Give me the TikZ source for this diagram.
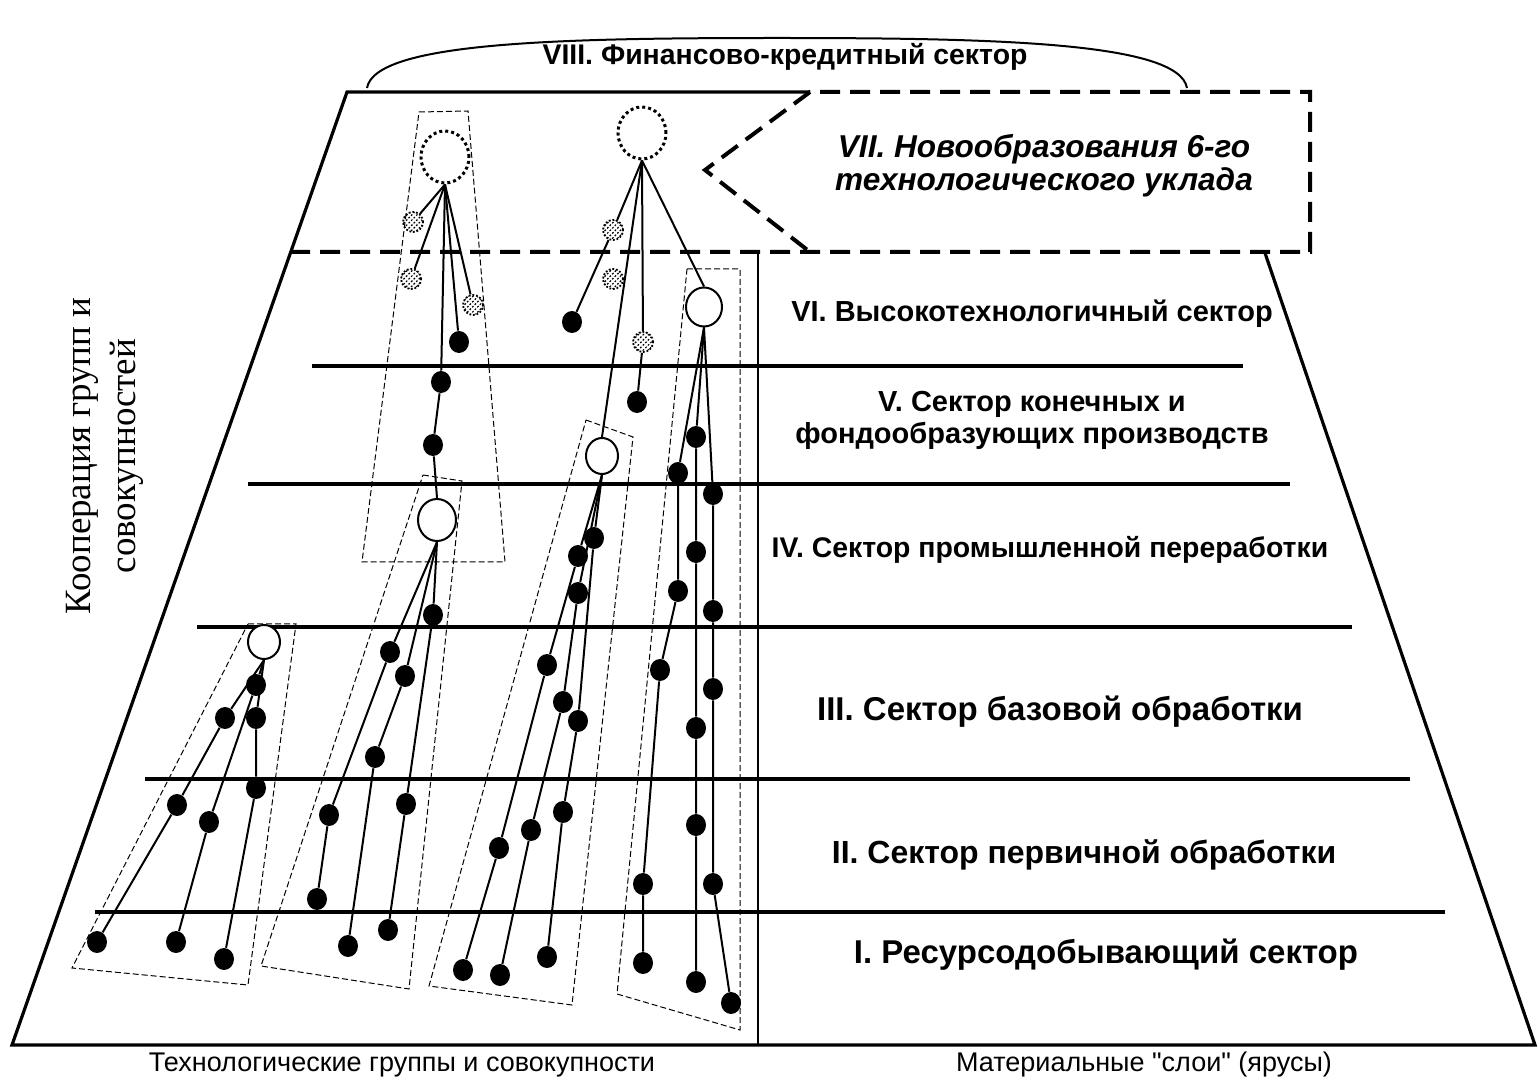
\documentclass[tikz,border=0pt]{standalone}
\usepackage{fontspec}
\setmainfont{Liberation Sans}
\newfontfamily\timesru{Liberation Serif}
\newfontfamily\plainsans{Liberation Sans}[Ligatures=TeXOff]
\usetikzlibrary{shapes.geometric,patterns.meta}

\begin{document}
\begin{tikzpicture}[x=0.5pt,y=-0.5pt,
	dot/.style={ellipse,fill=black,inner sep=0pt,minimum width=10pt,minimum height=11pt},
	hub/.style={ellipse,draw,line width=1pt,fill=white,inner sep=0pt},
	newhub/.style={ellipse,draw,line width=1.5pt,dash pattern=on 1.5pt off 1.5pt,inner sep=0pt,minimum width=24pt,minimum height=26pt},
	seed/.style={circle,draw,line width=0.9pt,dash pattern=on 0.9pt off 0.9pt,pattern={Lines[angle=45,distance=1.8pt,line width=0.6pt]},inner sep=0pt,minimum size=10pt},
	link/.style={line width=1pt},
	tier/.style={line width=1.6pt},
	group/.style={line width=0.5pt,dash pattern=on 3pt off 1.5pt},
	sector/.style={font=\bfseries\fontsize{14.5}{16}\selectfont,align=center},
	bigsector/.style={font=\bfseries\fontsize{16.5}{18}\selectfont}]
	\useasboundingbox (0,0) rectangle (1538,1085);
	\draw[line width=1pt] (367,88) .. controls (375,42) and (560,38) .. (777,38) .. controls (994,38) and (1179,42) .. (1187,88);
	\draw[tier] (810,92) -- (347,92) -- (12,1045) -- (1535,1045) -- (1265,253);
	\draw[line width=2pt,dash pattern=on 10pt off 5pt] (290,252) -- (1310,252) -- (1310,92) -- (810,92) -- (705,170) -- (810,252);
	\foreach \y/\a/\b in {366/312/1243, 484/248/1290, 627/197/1352, 779/145/1410, 912/95/1445}
		\draw[tier] (\a,\y) -- (\b,\y);
	\draw[line width=1pt] (758,252) -- (758,1045);
	\draw[group] (419,112) -- (468,111) -- (505,562) -- (362,562) -- cycle;
	\draw[group] (423,475) -- (462,481) -- (409,989) -- (261,966) -- cycle;
	\draw[group] (248,624) -- (296,624) -- (248,985) -- (72,968) -- cycle;
	\draw[group] (586,420) -- (633,437) -- (572,1005) -- (429,986) -- cycle;
	\draw[group] (687,269) -- (740,269) -- (740,1030) -- (617,994) -- cycle;

	\node[font=\bfseries\fontsize{14.2}{16}\selectfont] (fin) at (785,57) {VIII. Финансово-кредитный сектор};
	\node[font=\bfseries\itshape\fontsize{15.8}{16.5}\selectfont,align=center] (newtech) at (1044,166) {VII. Новообразования 6-го\\технологического уклада};
	\node[sector] (hitech) at (1032,314) {VI. Высокотехнологичный сектор};
	\node[sector] (final) at (1032,420) {V. Сектор конечных и\\фондообразующих производств};
	\node[font=\bfseries\fontsize{14.2}{16}\selectfont] (industry) at (1050,550) {IV. Сектор промышленной переработки};
	\node[bigsector] (basic) at (1060,712) {III. Сектор базовой обработки};
	\node[font=\bfseries\fontsize{16}{18}\selectfont] (primary) at (1084,855) {II. Сектор первичной обработки};
	\node[bigsector] (resource) at (1106,955) {I. Ресурсодобывающий сектор};
	\node[rotate=90,font=\timesru\fontsize{18.5}{22.5}\selectfont,align=center] (coop) at (105,456) {Кооперация групп и\\совокупностей};
	\node[font=\fontsize{13.5}{15}\selectfont] (techlab) at (402,1065) {Технологические группы и совокупности};
	\node[font=\plainsans\fontsize{13.5}{15}\selectfont] (matlab) at (1144,1065) {Материальные "слои" (ярусы)};

	\node[newhub] (t1) at (445,157) {};
	\node[newhub] (t2) at (642,133) {};
	\node[hub,minimum width=19pt,minimum height=21pt] (c2) at (437,520) {};
	\node[hub,minimum width=16pt,minimum height=17pt] (c3) at (264,642) {};
	\node[hub,minimum width=16pt,minimum height=18pt] (c4) at (602,456) {};
	\node[hub,minimum width=18pt,minimum height=19.5pt] (c5) at (704,307) {};
	\foreach \n/\x/\y in {s1/413/222, s2/411/279, s3/473/305, s4/613/230, s5/613/279, s6/643/342}
		\node[seed] (\n) at (\x,\y) {};
	\foreach \n/\x/\y in {a1/459/342, a2/441/382, a3/433/445, b1/572/322, b2/637/402,
		p1/225/718, p2/177/805, p3/97/942, p4/256/685, p5/209/822, p6/176/942, p7/256/718, p8/256/788, p9/224/959,
		q1/390/652, q2/329/815, q3/317/899, q4/405/676, q5/375/757, q6/348/946, q7/433/615, q8/406/804, q9/388/930,
		r1/578/556, r2/547/665, r3/499/848, r4/463/970, r5/578/593, r6/563/702, r7/531/830, r8/500/975,
		r9/594/538, r10/578/721, r11/563/812, r12/547/957,
		u1/678/473, u2/678/591, u3/660/670, u4/643/884, u5/643/963, u6/696/437, u7/696/552, u8/696/728,
		u9/696/825, u10/696/982, u11/713/494, u12/713/611, u13/713/689, u14/713/884, u15/731/1003}
		\node[dot] (\n) at (\x,\y) {};

	\draw[link] (t1.south) -- (s1);
	\draw[link] (t1.south) -- (s2);
	\draw[link] (t1.south) -- (s3);
	\draw[link] (t1.south) -- (a1);
	\draw[link] (t1.south) -- (a2) -- (a3) -- (c2.north);
	\draw[link] (t2.south) -- (s4) -- (b1);
	\draw[link] (t2.south) -- (s6) -- (b2);
	\draw[link] (t2.south) -- (c4.north);
	\draw[link] (t2.south) -- (c5.north);
	\draw[link] (c3.south) -- (p1) -- (p2) -- (p3);
	\draw[link] (c3.south) -- (p4) -- (p5) -- (p6);
	\draw[link] (c3.south) -- (p7) -- (p8) -- (p9);
	\draw[link] (c2.south) -- (q1) -- (q2) -- (q3);
	\draw[link] (c2.south) -- (q4) -- (q5) -- (q6);
	\draw[link] (c2.south) -- (q7) -- (q8) -- (q9);
	\draw[link] (c4.south) -- (r1) -- (r2) -- (r3) -- (r4);
	\draw[link] (c4.south) -- (r5) -- (r6) -- (r7) -- (r8);
	\draw[link] (c4.south) -- (r9) -- (r10) -- (r11) -- (r12);
	\draw[link] (c5.south) -- (u1) -- (u2) -- (u3) -- (u4) -- (u5);
	\draw[link] (c5.south) -- (u6) -- (u7) -- (u8) -- (u9) -- (u10);
	\draw[link] (c5.south) -- (u11) -- (u12) -- (u13) -- (u14) -- (u15);
\end{tikzpicture}
\end{document}
